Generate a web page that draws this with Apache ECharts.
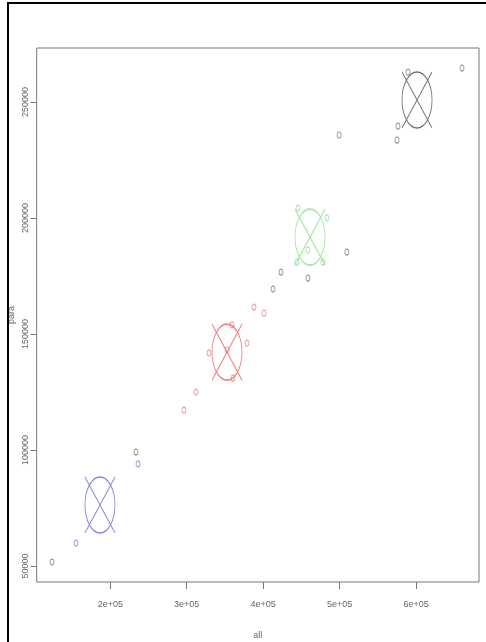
<!DOCTYPE html>
<html>
<head>
<meta charset="utf-8">
<script src="https://cdn.jsdelivr.net/npm/echarts@6/dist/echarts.min.js"></script>
<style>
html,body{margin:0;padding:0;background:#fff;}
#chart{width:486px;height:642px;}
</style>
</head>
<body>
<div id="chart"></div>
<script>
// ---- data ----
var xTickValues = [200000, 300000, 400000, 500000, 600000];
var xTickLabels = ['2e+05', '3e+05', '4e+05', '5e+05', '6e+05'];
var yTickValues = [50000, 100000, 150000, 200000, 250000];
var yTickLabels = ['50000', '100000', '150000', '200000', '250000'];
var xTitle = 'all';
var yTitle = 'para';

var pointsBlack = [[123700, 51700], [233600, 99100], [412900, 169400], [423300, 176700],
  [509500, 185300], [458500, 174100], [499400, 235800], [589500, 262900],
  [576400, 239600], [575100, 233600], [660200, 264600]];
var pointsBlue = [[155100, 59900], [236300, 94000]];
var pointsRed = [[296400, 117200], [312100, 125000], [359200, 153900], [329100, 141800],
  [378900, 146100], [360500, 131000], [388000, 161600], [401100, 159000], [352700, 143100]];
var pointsGreen = [[445600, 204300], [483500, 200000], [444100, 181000], [478100, 181000], [458500, 186200]];

var centerBlue = [[186500, 76300]];
var centerRed = [[352700, 142200]];
var centerGreen = [[461300, 191800]];
var centerBlack = [[601300, 250900]];

// ---- chart ----
var centerSymbol = 'path://M0,0L30,56M30,0L0,56M0,28A15,28,0,1,0,30,28A15,28,0,1,0,0,28Z';

function pointSeries(data, color) {
  return {
    type: 'scatter', data: data, symbol: 'circle', symbolSize: [4, 6],
    itemStyle: {color: 'rgba(0,0,0,0)', borderColor: color, borderWidth: 1, opacity: 0.7},
    silent: true
  };
}
function centerSeries(data, color) {
  return {
    type: 'scatter', data: data, symbol: centerSymbol, symbolSize: [30, 56],
    itemStyle: {color: 'rgba(0,0,0,0)', borderColor: color, borderWidth: 1.2},
    silent: true, z: 3
  };
}

var chart = echarts.init(document.getElementById('chart'), null, {renderer: 'canvas'});
chart.setOption({
  animation: false,
  backgroundColor: '#fff',
  grid: {left: 36.7, right: 7, top: 48, bottom: 60, outerBoundsMode: 'none', containLabel: false,
    show: true, borderColor: '#777', borderWidth: 1, backgroundColor: 'transparent'},
  xAxis: {
    type: 'value', min: 103700, max: 682400,
    name: xTitle, nameLocation: 'middle', nameGap: 49, nameMoveOverlap: false,
    nameTextStyle: {color: '#666', fontSize: 9, fontFamily: 'Liberation Sans'},
    axisLine: {show: false},
    splitLine: {show: false},
    axisTick: {show: true, length: 7, customValues: xTickValues, lineStyle: {color: '#777'}},
    axisLabel: {
      customValues: xTickValues, margin: 18, color: '#666', fontSize: 9, fontFamily: 'Liberation Sans',
      formatter: function (v) { var i = xTickValues.indexOf(v); return i >= 0 ? xTickLabels[i] : ''; }
    }
  },
  yAxis: {
    type: 'value', min: 43100, max: 273300,
    name: yTitle, nameLocation: 'middle', nameGap: 21, nameRotate: 90, nameMoveOverlap: false,
    nameTextStyle: {color: '#666', fontSize: 9, fontFamily: 'Liberation Sans'},
    axisLine: {show: false},
    splitLine: {show: false},
    axisTick: {show: true, length: 6, customValues: yTickValues, lineStyle: {color: '#777'}},
    axisLabel: {
      customValues: yTickValues, rotate: 90, margin: 7, color: '#666', fontSize: 9, fontFamily: 'Liberation Sans',
      formatter: function (v) { var i = yTickValues.indexOf(v); return i >= 0 ? yTickLabels[i] : ''; }
    }
  },
  graphic: [
    {type: 'line', shape: {x1: 8, y1: 2, x2: 8, y2: 642}, style: {stroke: '#000', lineWidth: 2}, silent: true},
    {type: 'line', shape: {x1: 7, y1: 3, x2: 486, y2: 3}, style: {stroke: '#000', lineWidth: 2}, silent: true}
  ],
  series: [
    pointSeries(pointsBlack, '#666'),
    pointSeries(pointsBlue, '#6a6ad8'),
    pointSeries(pointsRed, '#e07070'),
    pointSeries(pointsGreen, '#80d880'),
    centerSeries(centerBlue, '#6a6ad8'),
    centerSeries(centerRed, '#e86a6a'),
    centerSeries(centerGreen, '#8ee08e'),
    centerSeries(centerBlack, '#555')
  ]
});
</script>
</body>
</html>
